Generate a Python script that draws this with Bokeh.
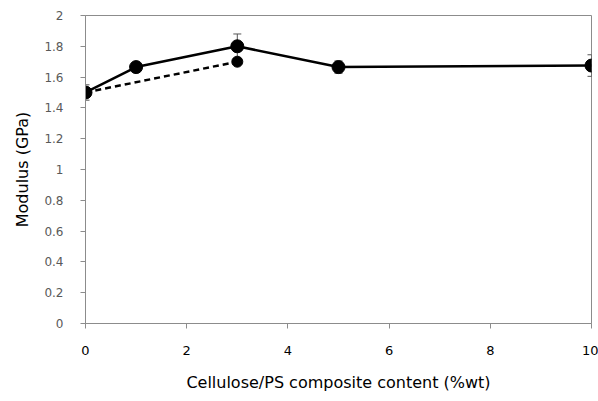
from bokeh.plotting import figure
from bokeh.models import ColumnDataSource, Whisker, FixedTicker, Range1d
from bokeh.embed import file_html
from bokeh.resources import INLINE

# data
content_solid = [0, 1, 3, 5, 10]
modulus_solid = [1.50, 1.665, 1.80, 1.665, 1.675]
err_solid = [0.05, 0.02, 0.08, 0.04, 0.07]

content_dash = [0, 3]
modulus_dash = [1.50, 1.70]

x_ticks = [0, 2, 4, 6, 8, 10]
y_ticks = [0, 0.2, 0.4, 0.6, 0.8, 1.0, 1.2, 1.4, 1.6, 1.8, 2.0]

p = figure(width=598, height=401, output_backend="svg", toolbar_location=None,
           x_range=Range1d(0, 10), y_range=Range1d(0, 2),
           min_border_left=85, min_border_right=7, min_border_top=15, min_border_bottom=78)

p.xgrid.visible = False
p.ygrid.visible = False
p.outline_line_color = "#8c8c8c"
p.outline_line_width = 1

FONT = "DejaVu Sans"
for ax in (p.xaxis[0], p.yaxis[0]):
    ax.axis_line_color = "#8c8c8c"
    ax.major_tick_line_color = "#8c8c8c"
    ax.minor_tick_line_color = None
    ax.major_tick_in = 0
    ax.major_tick_out = 5
    ax.major_label_text_font = FONT
    ax.major_label_text_font_size = "12px"
    ax.axis_label_text_font = FONT
    ax.axis_label_text_font_size = "16px"
    ax.axis_label_text_font_style = "normal"
    ax.axis_label_text_color = "black"

p.xaxis.ticker = FixedTicker(ticks=x_ticks)
p.yaxis.ticker = FixedTicker(ticks=y_ticks)
p.yaxis.major_label_overrides = {v: ("%g" % v) for v in y_ticks}
p.xaxis.major_label_text_color = "black"
p.xaxis.major_label_text_font_size = "13px"
p.yaxis.major_label_text_color = "#595959"
p.xaxis.major_label_standoff = 17
p.yaxis.major_label_standoff = 17
p.xaxis.axis_label = "Cellulose/PS composite content (%wt)"
p.yaxis.axis_label = "Modulus (GPa)"
p.xaxis.axis_label_standoff = 15
p.yaxis.axis_label_standoff = 9

src = ColumnDataSource(dict(
    x=content_solid, y=modulus_solid,
    upper=[m + e for m, e in zip(modulus_solid, err_solid)],
    lower=[m - e for m, e in zip(modulus_solid, err_solid)]))
src_d = ColumnDataSource(dict(x=content_dash, y=modulus_dash))

w = Whisker(base="x", upper="upper", lower="lower", source=src,
            line_color="#555555", line_width=1)
w.upper_head.size = 8
w.lower_head.size = 8
w.upper_head.line_color = "#555555"
w.lower_head.line_color = "#555555"
p.add_layout(w)

p.line("x", "y", source=src_d, line_color="black", line_width=2.5, line_dash="6 4")
p.scatter("x", "y", source=src_d, size=11, color="black")
p.line("x", "y", source=src, line_color="black", line_width=2.5)
p.scatter("x", "y", source=src, size=13, color="black")

open("out.html", "w").write(file_html(p, INLINE))
